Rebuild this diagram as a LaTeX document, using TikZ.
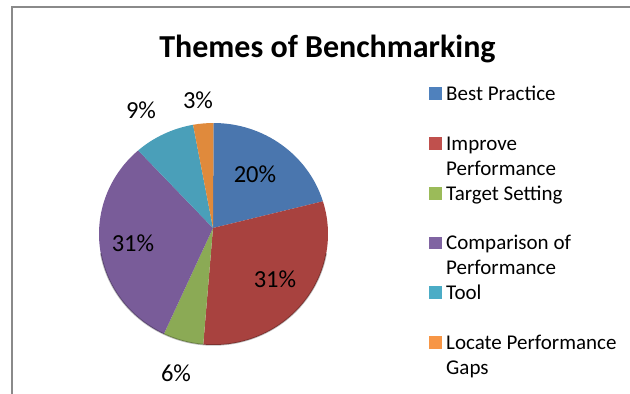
\documentclass[tikz,border=0pt]{standalone}
\usepackage{fontspec}
\setmainfont{Carlito}
\usetikzlibrary{calc}
\definecolor{cBlue}{HTML}{4A76AE}
\definecolor{cRed}{HTML}{A8423F}
\definecolor{cGreen}{HTML}{8BAA55}
\definecolor{cPurple}{HTML}{795C99}
\definecolor{cTeal}{HTML}{4A9FB9}
\definecolor{cOrange}{HTML}{E08A3C}
\definecolor{lBlue}{HTML}{4F81BD}
\definecolor{lRed}{HTML}{C0504D}
\definecolor{lGreen}{HTML}{9BBB59}
\definecolor{lPurple}{HTML}{8064A2}
\definecolor{lTeal}{HTML}{4BACC6}
\definecolor{lOrange}{HTML}{F79646}
\definecolor{frameGray}{HTML}{8A8A8A}
\tikzset{
  pct/.style={anchor=base, inner sep=0pt, font=\fontsize{24.5}{28}\selectfont},
  leg/.style={anchor=base west, inner sep=0pt, font=\fontsize{21}{25}\selectfont},
  legsq/.style={inner sep=0pt, minimum width=12.5pt, minimum height=12.5pt, anchor=south west},
  slice/.style={draw=none},
}
\newcommand{\pieslice}[3]{%
  \fill[#3] (A) -- ($(C)+(#1:114.5pt and 111pt)$) arc[start angle=#1, end angle=#2, x radius=114.5pt, y radius=111pt] -- cycle;}
\begin{document}
\begin{tikzpicture}[x=1pt,y=1pt]
\useasboundingbox (0,0) rectangle (630,-394);
\fill[white] (0,0) rectangle (630,-394);
% frame (top and left visible)
\draw[frameGray, line width=2pt] (12,-394) -- (12,-6.5) -- (630,-6.5);
% title
\node[anchor=base, inner sep=0pt, font=\fontsize{32}{36}\selectfont\bfseries] (title) at (327.5,-57) {Themes of Benchmarking};
% pie
\coordinate (C) at (213.5,-234);
\coordinate (A) at (213,-228);
\pieslice{90}{17.14}{cBlue}
\pieslice{17.14}{-95.14}{cRed}
\pieslice{-95.14}{-115.71}{cGreen}
\pieslice{-115.71}{-228.86}{cPurple}
\pieslice{-228.86}{-259.71}{cTeal}
\pieslice{-259.71}{-270}{cOrange}
% subtle lower rim
\draw[black, opacity=0.25, line width=1.5pt] ($(C)+(190:114.5pt and 111pt)$) arc[start angle=190, end angle=350, x radius=114.5pt, y radius=111pt];
% percentage labels
\node[pct] (p1) at (255,-182) {20\%};
\node[pct] (p2) at (275,-287) {31\%};
\node[pct] (p3) at (176,-381) {6\%};
\node[pct] (p4) at (133,-251) {31\%};
\node[pct] (p5) at (141,-118) {9\%};
\node[pct] (p6) at (198,-108) {3\%};
% legend
\node[legsq, fill=lBlue] (s1) at (429,-100) {};
\node[leg] (l1) at (446,-100) {Best Practice};
\node[legsq, fill=lRed] (s2) at (429,-150) {};
\node[leg] (l2) at (446,-150) {Improve};
\node[leg] (l2b) at (446,-175) {Performance};
\node[legsq, fill=lGreen] (s3) at (429,-200) {};
\node[leg] (l3) at (446,-200) {Target Setting};
\node[legsq, fill=lPurple] (s4) at (429,-249.5) {};
\node[leg] (l4) at (446,-249.5) {Comparison of};
\node[leg] (l4b) at (446,-274.5) {Performance};
\node[legsq, fill=lTeal] (s5) at (429,-299) {};
\node[leg] (l5) at (446,-299) {Tool};
\node[legsq, fill=lOrange] (s6) at (429,-349) {};
\node[leg] (l6) at (446,-349) {Locate Performance};
\node[leg] (l6b) at (446,-374) {Gaps};
\end{tikzpicture}
\end{document}
